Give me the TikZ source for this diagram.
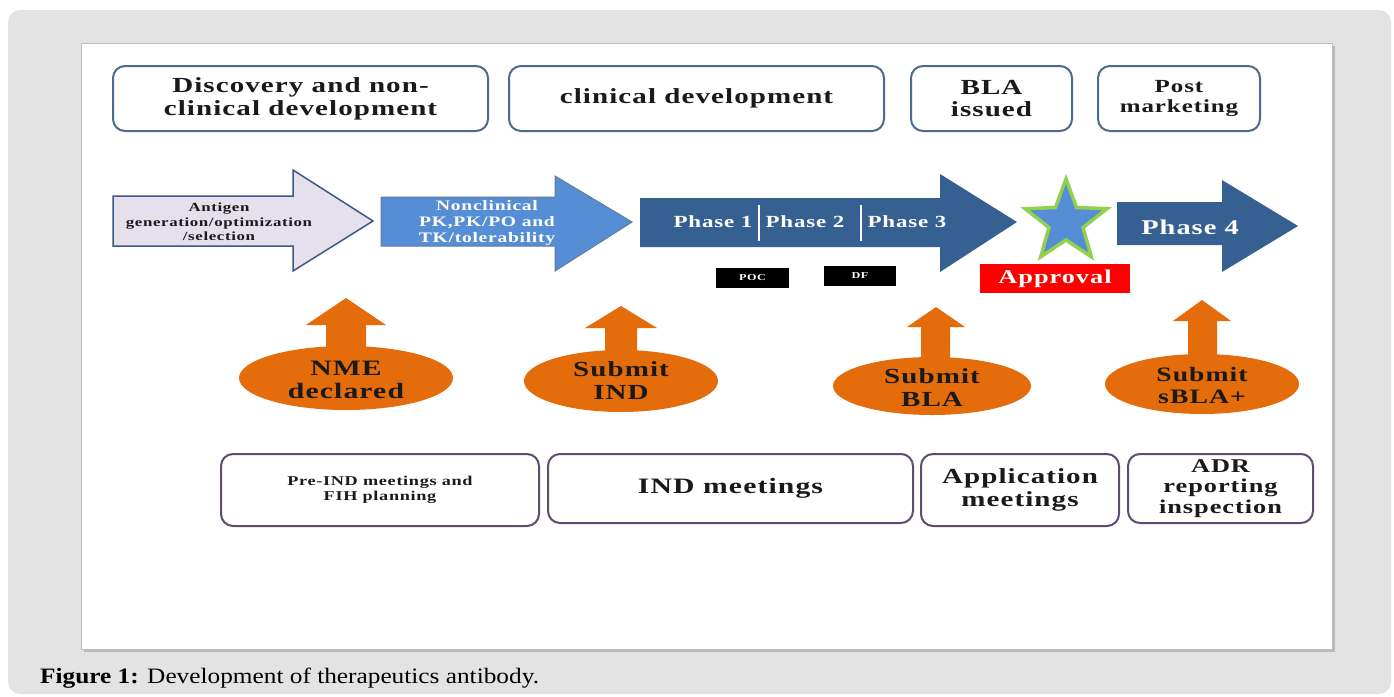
\documentclass[tikz,border=0pt]{standalone}
\usepackage{fontspec}
\setmainfont{Liberation Serif}
\newfontfamily\wb[FakeStretch=1.35,LetterSpace=5]{Liberation Serif}
\newfontfamily\capfont[FakeStretch=1.15]{Liberation Serif}
\usetikzlibrary{shapes.geometric}
\definecolor{bggray}{HTML}{E3E3E3}
\definecolor{topedge}{HTML}{4F6A8F}
\definecolor{botedge}{HTML}{5E4D6E}
\definecolor{lav}{HTML}{E6E0EC}
\definecolor{aedge}{HTML}{3C5A82}
\definecolor{midblue}{HTML}{558ED5}
\definecolor{darkblue}{HTML}{376092}
\definecolor{orng}{HTML}{E46C0A}
\definecolor{stargreen}{HTML}{92D050}
\definecolor{ink}{HTML}{1A1A1A}
\tikzset{
  topbox/.style={draw=topedge,line width=2pt,rounded corners=12pt,fill=white,align=center,text=ink},
  botbox/.style={draw=botedge,line width=2pt,rounded corners=12pt,fill=white,align=center,text=ink},
  lbl/.style={align=center,inner sep=0pt},
}
\newcommand{\fs}[2]{\wb\bfseries\fontsize{#1}{#2}\selectfont}
\begin{document}
\begin{tikzpicture}[x=1pt,y=-1pt]
\useasboundingbox (0,0) rectangle (1394,696);
\fill[white] (0,0) rectangle (1394,696);
\fill[bggray,rounded corners=12pt] (8,10) rectangle (1391,694);
% inner panel with shadow
\fill[gray!55] (84,46) rectangle (1335,652);
\fill[white] (81,43) rectangle (1332,649);
\draw[gray!50,line width=1pt] (81,43) rectangle (1332,649);

% top boxes
\node[topbox,minimum width=375pt,minimum height=65pt,font=\fs{21.5}{23}] (disc) at (300.5,98.5) {Discovery and non-\\clinical development};
\node[topbox,minimum width=375pt,minimum height=65pt,font=\fs{21.5}{23}] (clin) at (696.5,98.5) {clinical development};
\node[topbox,minimum width=161pt,minimum height=65pt,font=\fs{21.5}{22}] (bla) at (991.5,98.5) {BLA\\issued};
\node[topbox,minimum width=162pt,minimum height=65pt,font=\fs{18.5}{20}] (post) at (1179,98.5) {Post\\marketing};

% arrow 1
\draw[fill=lav,draw=aedge,line width=1.5pt,line join=miter]
  (113,196) -- (293,196) -- (293,170) -- (373,221) -- (293,271) -- (293,246) -- (113,246) -- cycle;
\node[lbl,font=\fs{12.5}{14.5},text=ink] (a1) at (219,222) {Antigen\\generation/optimization\\/selection};
% arrow 2
\draw[fill=midblue,draw=aedge!80,line width=1pt]
  (381,197) -- (555,197) -- (555,176) -- (632,222) -- (555,271) -- (555,246) -- (381,246) -- cycle;
\node[lbl,font=\fs{14.5}{16},text=white] (a2) at (487,223) {Nonclinical\\PK,PK/PO and\\TK/tolerability};
% arrow 3
\fill[darkblue] (640,198) -- (940,198) -- (940,174) -- (1017,222) -- (940,272) -- (940,247) -- (640,247) -- cycle;
\draw[white,line width=1.2pt] (759,205) -- (759,241);
\draw[white,line width=1.2pt] (861,205) -- (861,241);
\node[lbl,font=\fs{17}{18},text=white] (p1) at (713,222) {Phase 1};
\node[lbl,font=\fs{17}{18},text=white] (p2) at (805,222) {Phase 2};
\node[lbl,font=\fs{17}{18},text=white] (p3) at (907,222) {Phase 3};
% star
\node[star,star points=5,star point ratio=2.4,minimum size=86pt,inner sep=0pt,fill=midblue,draw=stargreen,line width=3.5pt] (star) at (1066,222) {};
% arrow 4
\fill[darkblue] (1117,202) -- (1222,202) -- (1222,180) -- (1298,226) -- (1222,272) -- (1222,245) -- (1117,245) -- cycle;
\node[lbl,font=\fs{21}{22},text=white] (p4) at (1190,227) {Phase 4};

% small labels
\node[fill=black,text=white,minimum width=73pt,minimum height=20pt,inner sep=0pt,font=\fs{9}{10}] (poc) at (752.5,278) {POC};
\node[fill=black,text=white,minimum width=72pt,minimum height=20pt,inner sep=0pt,font=\fs{9}{10}] (df) at (860,276) {DF};
\node[fill=red,text=white,minimum width=150pt,minimum height=29pt,inner sep=0pt,font=\fs{19.5}{20}] (appr) at (1055,278.5) {Approval};

% orange up arrows and ellipses
\fill[orng] (346,298) -- (386,325) -- (366,325) -- (366,362) -- (326,362) -- (326,325) -- (306,325) -- cycle;
\node[ellipse,fill=orng,minimum width=214pt,minimum height=64pt,inner sep=0pt] (nme) at (346,378) {};
\node[lbl,font=\fs{22}{23},text=ink] (nmet) at (346,380) {NME\\declared};

\fill[orng] (621,306) -- (657,328) -- (637,328) -- (637,365) -- (605,365) -- (605,328) -- (585,328) -- cycle;
\node[ellipse,fill=orng,minimum width=194pt,minimum height=62pt,inner sep=0pt] (ind) at (621,381) {};
\node[lbl,font=\fs{21.5}{23},text=ink] (indt) at (621,381) {Submit\\IND};

\fill[orng] (936,307) -- (965,327) -- (950,327) -- (950,368) -- (921,368) -- (921,327) -- (907,327) -- cycle;
\node[ellipse,fill=orng,minimum width=198pt,minimum height=58pt,inner sep=0pt] (blae) at (932,386) {};
\node[lbl,font=\fs{21.5}{23},text=ink] (blat) at (932,388) {Submit\\BLA};

\fill[orng] (1202,300) -- (1231,321) -- (1217,321) -- (1217,365) -- (1188,365) -- (1188,321) -- (1173,321) -- cycle;
\node[ellipse,fill=orng,minimum width=194pt,minimum height=60pt,inner sep=0pt] (sbla) at (1202,384) {};
\node[lbl,font=\fs{20.5}{22},text=ink] (sblat) at (1202,385) {Submit\\sBLA+};

% bottom boxes
\node[botbox,minimum width=318pt,minimum height=72pt,font=\fs{13.5}{15}] (pre) at (380,490) {Pre-IND meetings and\\FIH planning};
\node[botbox,minimum width=365pt,minimum height=69pt,font=\fs{22}{23}] (indm) at (730.5,488.5) {IND meetings};
\node[botbox,minimum width=198pt,minimum height=72pt,font=\fs{21.5}{23}] (appm) at (1020,490) {Application\\meetings};
\node[botbox,minimum width=185pt,minimum height=69pt,font=\fs{19.5}{20.5}] (adr) at (1220.5,488.5) {ADR\\reporting\\inspection};

% caption
\node[anchor=west,inner sep=0pt,font=\capfont\fontsize{22}{24}\selectfont] (cap) at (40,678) {\textbf{Figure 1:} Development of therapeutics antibody.};
\end{tikzpicture}
\end{document}
